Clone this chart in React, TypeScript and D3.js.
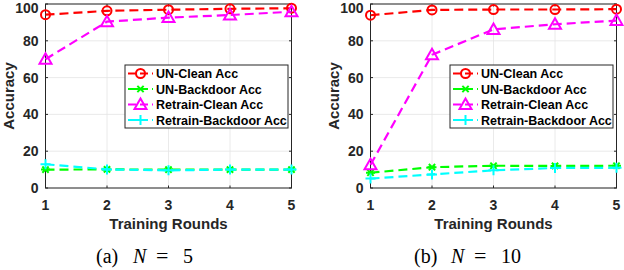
import React from 'react';
import * as d3 from 'd3';

const rounds = [1, 2, 3, 4, 5];
const seriesNames = ['UN-Clean Acc', 'UN-Backdoor Acc', 'Retrain-Clean Acc', 'Retrain-Backdoor Acc'];
const seriesColors = ['#ff0000', '#00ff00', '#ff00ff', '#00ffff'];
const seriesMarkers = ['circle', 'star', 'triangle', 'plus'];

// panel (a) N = 5
const aUnClean = [94.2, 96.3, 96.9, 97.4, 97.7];
const aUnBackdoor = [10, 10.1, 10, 10, 10];
const aRetrainClean = [70, 90.4, 92.6, 94, 95.8];
const aRetrainBackdoor = [12.9, 10.1, 9.6, 10, 10];

// panel (b) N = 10
const bUnClean = [93.9, 96.8, 97, 97, 97.2];
const bUnBackdoor = [8.3, 11.3, 12.1, 12, 12.1];
const bRetrainClean = [12.6, 72.4, 86.2, 89, 91];
const bRetrainBackdoor = [5.1, 7.4, 9.6, 10.9, 11];

const yTicks = [0, 20, 40, 60, 80, 100];

const Marker = ({ type, x, y, color }: { type: string; x: number; y: number; color: string }) => {
  if (type === 'circle') {
    return <circle cx={x} cy={y} r={4.5} fill="none" stroke={color} strokeWidth={2} />;
  }
  if (type === 'triangle') {
    const s = 6;
    return (
      <path
        d={`M${x},${y - s}L${x + s},${y + s * 0.75}L${x - s},${y + s * 0.75}Z`}
        fill="none"
        stroke={color}
        strokeWidth={2}
      />
    );
  }
  if (type === 'plus') {
    const s = 5;
    return (
      <path d={`M${x - s},${y}H${x + s}M${x},${y - s}V${y + s}`} stroke={color} strokeWidth={2} />
    );
  }
  // asterisk
  const s = 4.5;
  const d = s * 0.7;
  return (
    <path
      d={`M${x - s},${y}H${x + s}M${x - d},${y - d}L${x + d},${y + d}M${x - d},${y + d}L${x + d},${y - d}`}
      stroke={color}
      strokeWidth={2}
    />
  );
};

const Panel = ({ ox, series, label, nValue, capX }: { ox: number; series: number[][]; label: string; nValue: string; capX: number }) => {
  const left = ox + 45.5;
  const right = ox + 291.5;
  const top = 4;
  const bottom = 188;

  const x = d3.scaleLinear().domain([1, 5]).range([left, right]);
  const y = d3.scaleLinear().domain([0, 100]).range([bottom, top]);

  const line = d3
    .line<number>()
    .x((d, i) => x(rounds[i]))
    .y((d) => y(d));

  const legX = ox + 125;
  const legY = 65;
  const legW = 163;
  const legH = 63;

  const font = "'Liberation Sans', Arial, Helvetica, sans-serif";
  const serif = "'Liberation Serif', 'Times New Roman', serif";

  return (
    <g>
      {/* grid */}
      {rounds.map((r) => (
        <line key={'gx' + r} x1={x(r)} x2={x(r)} y1={top} y2={bottom} stroke="#e5e5e5" strokeWidth={0.8} />
      ))}
      {yTicks.map((t) => (
        <line key={'gy' + t} x1={left} x2={right} y1={y(t)} y2={y(t)} stroke="#e5e5e5" strokeWidth={0.8} />
      ))}
      {/* box */}
      <rect x={left} y={top} width={right - left} height={bottom - top} fill="none" stroke="#262626" strokeWidth={1} />
      {/* ticks */}
      {rounds.map((r) => (
        <g key={'tx' + r}>
          <line x1={x(r)} x2={x(r)} y1={bottom} y2={bottom - 2.5} stroke="#262626" />
          <line x1={x(r)} x2={x(r)} y1={top} y2={top + 2.5} stroke="#262626" />
          <text x={x(r)} y={210} textAnchor="middle" fontFamily={font} fontWeight="bold" fontSize={14} fill="#262626">
            {r}
          </text>
        </g>
      ))}
      {yTicks.map((t) => (
        <g key={'ty' + t}>
          <line x1={left} x2={left + 2.5} y1={y(t)} y2={y(t)} stroke="#262626" />
          <line x1={right} x2={right - 2.5} y1={y(t)} y2={y(t)} stroke="#262626" />
          <text
            x={left - 7}
            y={Math.max(y(t), 8)}
            dy="0.36em"
            textAnchor="end"
            fontFamily={font}
            fontWeight="bold"
            fontSize={14}
            fill="#262626"
          >
            {t}
          </text>
        </g>
      ))}
      {/* series */}
      {series.map((vals, si) => (
        <g key={'s' + si}>
          <path
            d={line(vals) || ''}
            fill="none"
            stroke={seriesColors[si]}
            strokeWidth={2.2}
            strokeDasharray="9,5"
          />
          {vals.map((v, i) => (
            <Marker key={i} type={seriesMarkers[si]} x={x(rounds[i])} y={y(v)} color={seriesColors[si]} />
          ))}
        </g>
      ))}
      {/* axis labels */}
      <text
        x={(left + right) / 2}
        y={229}
        textAnchor="middle"
        fontFamily={font}
        fontWeight="bold"
        fontSize={15}
        fill="#262626"
      >
        Training Rounds
      </text>
      <text
        transform={`translate(${ox + 14},${(top + bottom) / 2}) rotate(-90)`}
        textAnchor="middle"
        fontFamily={font}
        fontWeight="bold"
        fontSize={15}
        fill="#262626"
      >
        Accuracy
      </text>
      {/* legend */}
      <rect x={legX} y={legY} width={legW} height={legH} fill="#ffffff" stroke="#262626" strokeWidth={1} />
      {seriesNames.map((name, si) => {
        const ly = legY + 8.5 + si * 15.5;
        return (
          <g key={'l' + si}>
            <line
              x1={legX + 3}
              x2={legX + 28}
              y1={ly}
              y2={ly}
              stroke={seriesColors[si]}
              strokeWidth={2.2}
              strokeDasharray="8,4"
            />
            <Marker type={seriesMarkers[si]} x={legX + 15.5} y={ly} color={seriesColors[si]} />
            <text
              x={legX + 31}
              y={ly}
              dy="0.36em"
              fontFamily={font}
              fontWeight="bold"
              fontSize={12.5}
              fill="#000000"
            >
              {name}
            </text>
          </g>
        );
      })}
      {/* caption */}
      <g fontFamily={serif} fontSize={20} fill="#000000">
        <text x={capX} y={263}>{label}</text>
        <text x={capX + 37} y={263} fontStyle="italic">N</text>
        <text x={capX + 60} y={263} fontSize={22}>=</text>
        <text x={capX + 87} y={263}>{nValue}</text>
      </g>
    </g>
  );
};

export default function App() {
  return (
    <svg width={624} height={270} style={{ position: 'absolute', left: 0, top: 0, background: '#ffffff' }}>
      <rect width={624} height={270} fill="#ffffff" />
      <Panel ox={0} series={[aUnClean, aUnBackdoor, aRetrainClean, aRetrainBackdoor]} label="(a)" nValue="5" capX={96} />
      <Panel ox={325} series={[bUnClean, bUnBackdoor, bRetrainClean, bRetrainBackdoor]} label="(b)" nValue="10" capX={414} />
    </svg>
  );
}
